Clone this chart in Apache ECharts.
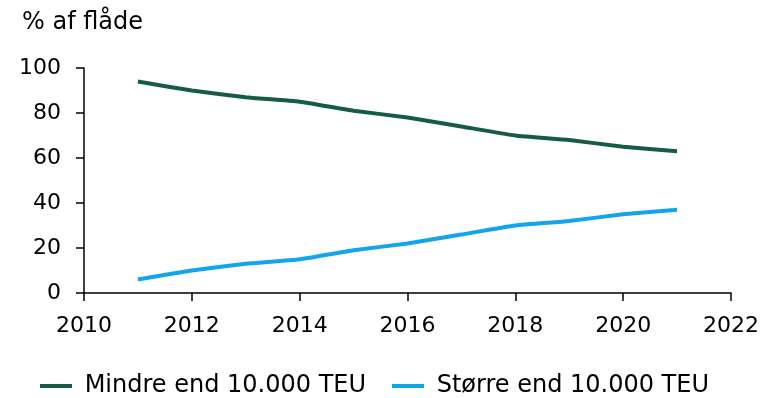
<!DOCTYPE html>
<html>
<head>
<meta charset="utf-8">
<script src="https://cdn.jsdelivr.net/npm/echarts@6/dist/echarts.min.js"></script>
<style>
  html, body { margin: 0; padding: 0; background: #fff; }
  #chart { width: 764px; height: 398px; }
</style>
</head>
<body>
<div id="chart"></div>
<script>
// Share of fleet capacity by ship size, yearly
const years = [2011, 2012, 2013, 2014, 2015, 2016, 2017, 2018, 2019, 2020, 2021];
const smallShips = [94, 90, 87, 85, 81, 78, 74, 70, 68, 65, 63];
const largeShips = [6, 10, 13, 15, 19, 22, 26, 30, 32, 35, 37];
const seriesNames = ['Mindre end 10.000 TEU', 'Større end 10.000 TEU'];
const unitLabel = '% af flåde';

const font = 'DejaVu Sans, Verdana, sans-serif';
const chart = echarts.init(document.getElementById('chart'));

const pairs = (vals) => years.map((y, i) => [y, vals[i]]);

chart.setOption({
  animation: false,
  title: {
    text: unitLabel,
    left: 17, top: 6,
    textStyle: { fontFamily: font, fontSize: 24, fontWeight: 'normal', color: '#000' }
  },
  legend: {
    top: 369,
    left: 35,
    padding: 5,
    itemWidth: 32, itemHeight: 4, itemGap: 26,
    icon: 'rect',
    formatter: name => ' ' + name,
    textStyle: { fontFamily: font, fontSize: 24, color: '#000' },
    data: seriesNames
  },
  grid: { left: 84, right: 33, top: 68, bottom: 105 },
  xAxis: {
    type: 'value', min: 2010, max: 2022, interval: 2,
    axisLine: { lineStyle: { color: '#000', width: 1.5 } },
    axisTick: { show: true, length: 8, lineStyle: { color: '#000', width: 1.5 } },
    axisLabel: { fontFamily: font, fontSize: 22, color: '#000', margin: 22, formatter: v => String(v) },
    splitLine: { show: false }
  },
  yAxis: {
    type: 'value', min: 0, max: 100, interval: 20,
    axisLine: { show: true, lineStyle: { color: '#000', width: 1.5 } },
    axisTick: { show: true, length: 8, lineStyle: { color: '#000', width: 1.5 } },
    axisLabel: { fontFamily: font, fontSize: 22, color: '#000', margin: 23 },
    splitLine: { show: false }
  },
  series: [
    {
      name: seriesNames[0], type: 'line', data: pairs(smallShips),
      symbol: 'none', smooth: 0.15,
      lineStyle: { color: '#175c42', width: 4 },
      itemStyle: { color: '#175c42' }
    },
    {
      name: seriesNames[1], type: 'line', data: pairs(largeShips),
      symbol: 'none', smooth: 0.15,
      lineStyle: { color: '#12a5ec', width: 4 },
      itemStyle: { color: '#12a5ec' }
    }
  ]
});
</script>
</body>
</html>
